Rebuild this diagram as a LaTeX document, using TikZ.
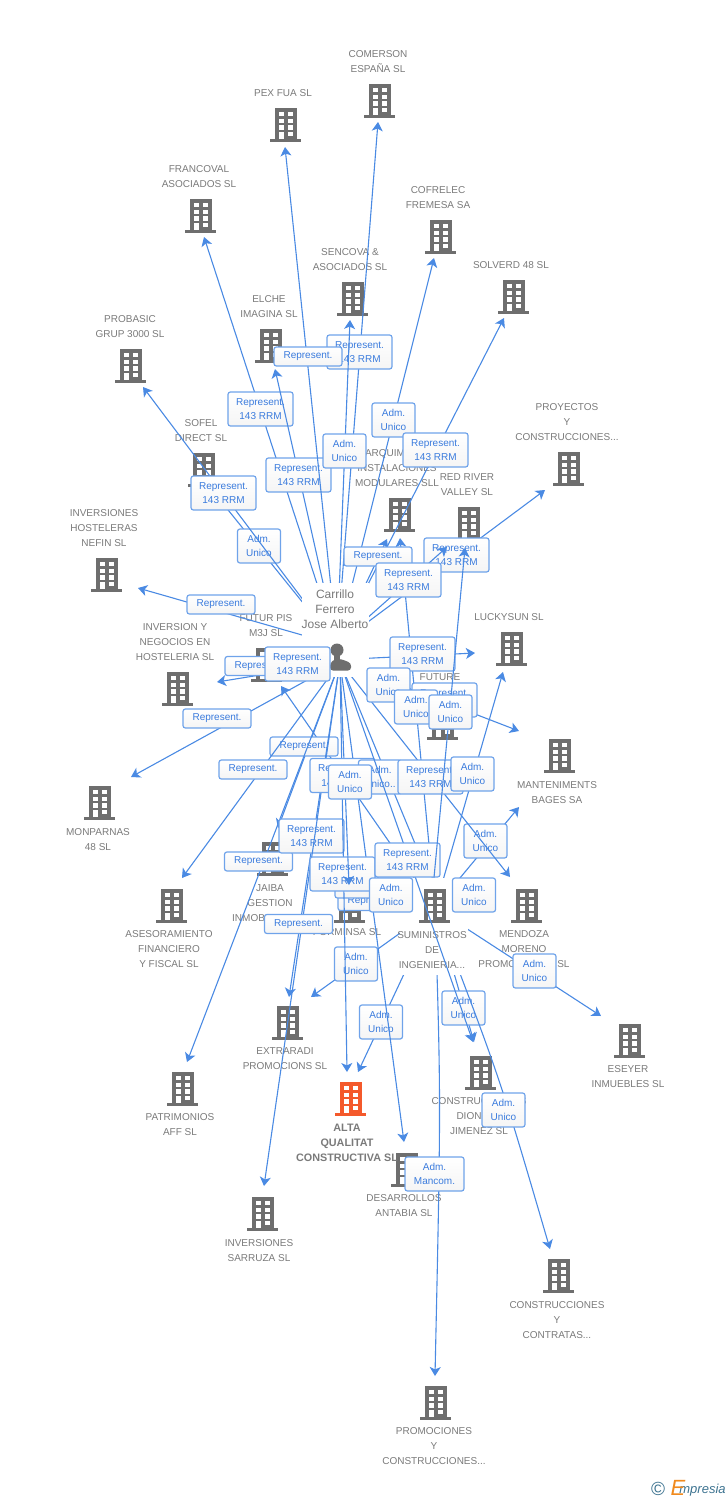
\documentclass[tikz,border=0pt]{standalone}
\usepackage{fontspec}
\setmainfont{Liberation Sans}
\usetikzlibrary{arrows.meta}
\definecolor{linkblue}{HTML}{4A8AE3}
\definecolor{boxblue}{HTML}{6FA3EA}
\definecolor{relblue}{HTML}{3A7BDD}
\definecolor{bldggray}{HTML}{6E6E6E}
\definecolor{textgray}{HTML}{7A7A7A}
\definecolor{altaorange}{HTML}{F4592B}
\definecolor{logoteal}{HTML}{3D7390}
\definecolor{logoorange}{HTML}{F08A1E}
\tikzset{
  link/.style={draw=linkblue,line width=0.55pt,-{Stealth[length=4.5pt,width=5.5pt,inset=1.2pt]}},
  bldg/.style={inner sep=0pt,minimum width=17pt,minimum height=18pt,path picture={
    \begin{scope}[shift={(path picture bounding box.center)}]
      \fill[#1] (-11,-16) rectangle (11,15);
      \fill[#1] (-16,15) rectangle (15,17.5);
      \fill[white] (-7.3,-12) rectangle (-2,-7.7);
      \fill[white] (2,-12) rectangle (7.3,-7.7);
      \fill[white] (-7.3,-5.5) rectangle (-2,-1.2);
      \fill[white] (2,-5.5) rectangle (7.3,-1.2);
      \fill[white] (-7.3,1.2) rectangle (-2,5.5);
      \fill[white] (2,1.2) rectangle (7.3,5.5);
      \fill[white] (-7.3,7.8) rectangle (-2,15);
      \fill[white] (2,7.8) rectangle (7.3,12);
    \end{scope}}},
  bldg/.default=bldggray,
  person/.style={inner sep=0pt,minimum width=15pt,minimum height=16pt,path picture={
    \begin{scope}[shift={(path picture bounding box.center)}]
      \fill[bldggray] (-3,-7) circle (6.5);
      \fill[bldggray] (-6,-3) rectangle (0,4);
      \fill[bldggray,rounded corners=1.5pt] (-10,13.5) -- (-10,6) -- (-5,2) -- (1,2) -- (11,6) -- (11,13.5) -- cycle;
    \end{scope}}},
  comp/.style={align=center,inner sep=0pt,text=textgray,font=\fontsize{5}{7.5}\selectfont},
  rel/.style={align=center,inner sep=0pt,draw=boxblue,line width=0.6pt,rounded corners=1.2pt,
    top color=white,bottom color=black!4,text=relblue,font=\fontsize{5}{7.25}\selectfont},
  relb/.style={rel,minimum width=32.5pt,minimum height=17pt},
  rels/.style={rel,minimum width=34pt,minimum height=9.5pt},
  rela/.style={rel,minimum width=21.5pt,minimum height=17pt},
  relm/.style={rel,minimum width=29.5pt,minimum height=17pt},
  mask/.style={fill=white,inner sep=0pt}
}
\begin{document}
\begin{tikzpicture}[x=0.5pt,y=-0.5pt]
  \useasboundingbox (0,0) rectangle (728,1500);
  % buildings
  \node[bldg] (comerson) at (380,100) {};
  \node[bldg] (pexfua) at (286,124) {};
  \node[bldg] (francoval) at (201,215) {};
  \node[bldg] (cofrelec) at (441,236) {};
  \node[bldg] (sencova) at (353,298) {};
  \node[bldg] (solverd) at (514,296) {};
  \node[bldg] (elche) at (271,345) {};
  \node[bldg] (probasic) at (131,365) {};
  \node[bldg] (proyectos) at (569,468) {};
  \node[bldg] (sofel) at (204,469) {};
  \node[bldg] (arquim) at (400,514) {};
  \node[bldg] (redriver) at (469,523) {};
  \node[bldg] (hosteleras) at (107,574) {};
  \node[bldg] (negocios) at (178,688) {};
  \node[bldg] (futurpis) at (267,664) {};
  \node[bldg] (luckysun) at (512,648) {};
  \node[bldg] (future) at (443,722) {};
  \node[bldg] (mantenim) at (560,755) {};
  \node[bldg] (monparnas) at (100,802) {};
  \node[bldg] (asesor) at (172,905) {};
  \node[bldg] (jaiba) at (273,858) {};
  \node[bldg] (porminsa) at (350,905) {};
  \node[bldg] (mendoza) at (527,905) {};
  \node[bldg] (eseyer) at (630,1040) {};
  \node[bldg] (extraradi) at (288,1022) {};
  \node[bldg] (patrimonios) at (183,1088) {};
  \node[bldg] (dionisio) at (481,1072) {};
  \node[bldg=altaorange] (alta) at (351,1098) {};
  \node[bldg] (antabia) at (407,1169) {};
  \node[bldg] (sarruza) at (263,1213) {};
  \node[bldg] (contratas) at (559,1275) {};
  \node[bldg] (promociones) at (436,1402) {};
  % names
  \node[comp] (comerson text) at (378,62) {COMERSON\\ESPAÑA SL};
  \node[comp] (pexfua text) at (283,93.5) {PEX FUA SL};
  \node[comp] (francoval text) at (199,177) {FRANCOVAL\\ASOCIADOS SL};
  \node[comp] (cofrelec text) at (438,198) {COFRELEC\\FREMESA SA};
  \node[comp] (sencova text) at (350,260) {SENCOVA \&\\ASOCIADOS SL};
  \node[comp] (solverd text) at (511,265.5) {SOLVERD 48 SL};
  \node[comp] (elche text) at (269,307) {ELCHE\\IMAGINA SL};
  \node[comp] (probasic text) at (130,327) {PROBASIC\\GRUP 3000 SL};
  \node[comp] (proyectos text) at (567,422.5) {PROYECTOS\\Y\\CONSTRUCCIONES...};
  \node[comp] (sofel text) at (201,431) {SOFEL\\DIRECT SL};
  \node[comp] (arquim text) at (397,468.5) {ARQUIM\hspace*{12pt}\\INSTALACIONES\\MODULARES SLL};
  \node[comp] (redriver text) at (467,485) {RED RIVER\\VALLEY SL};
  \node[comp] (hosteleras text) at (104,528.5) {INVERSIONES\\HOSTELERAS\\NEFIN SL};
  \node[comp] (negocios text) at (175,642.5) {INVERSION Y\\NEGOCIOS EN\\HOSTELERIA SL};
  \node[comp] (futurpis text) at (266,626) {FUTUR PIS\\M3J SL};
  \node[comp] (luckysun text) at (509,617.5) {LUCKYSUN SL};
  \node[comp] (future text) at (440,677.5) {FUTURE};
  \node[comp] (mantenim text) at (557,793) {MANTENIMENTS\\BAGES SA};
  \node[comp] (monparnas text) at (98,840) {MONPARNAS\\48 SL};
  \node[comp] (asesor text) at (169,949.5) {ASESORAMIENTO\\FINANCIERO\\Y FISCAL SL};
  \node[comp] (jaiba text) at (270,903.5) {JAIBA\\GESTION\\INMOBILIARIA...};
  \node[comp] (porminsa text) at (347,932.5) {PORMINSA SL};
  \node[comp] (mendoza text) at (524,949.5) {MENDOZA\\MORENO\\PROMOCIONES SL};
  \node[comp] (eseyer text) at (628,1077) {ESEYER\\INMUEBLES SL};
  \node[comp] (extraradi text) at (285,1059) {EXTRARADI\\PROMOCIONS SL};
  \node[comp] (patrimonios text) at (180,1125) {PATRIMONIOS\\AFF SL};
  \node[comp] (dionisio text) at (479,1116.5) {CONSTRUCCIONES\\DIONISIO\\JIMENEZ SL};
  \node[comp,font=\fontsize{5.4}{7.5}\bfseries\selectfont] (alta text) at (347,1142.5) {ALTA\\QUALITAT\\CONSTRUCTIVA SL};
  \node[comp] (antabia text) at (404,1206) {DESARROLLOS\\ANTABIA SL};
  \node[comp] (sarruza text) at (259,1251) {INVERSIONES\\SARRUZA SL};
  \node[comp] (contratas text) at (557,1320.5) {CONSTRUCCIONES\\Y\\CONTRATAS...};
  \node[comp] (promociones text) at (434,1446.5) {PROMOCIONES\\Y\\CONSTRUCCIONES...};
  % line ends
  \coordinate (carrillo up) at (337,645);
  \coordinate (carrillo down) at (340,662);
  \coordinate (carrillo right) at (353,659);
  \coordinate (suministros hub) at (435,908);
  \coordinate (comerson in) at (378,122);
  \coordinate (pexfua in) at (285,147);
  \coordinate (francoval in) at (204,237);
  \coordinate (cofrelec in) at (434,258);
  \coordinate (sencova in) at (350,320);
  \coordinate (solverd in) at (504,318);
  \coordinate (elche in) at (275,369);
  \coordinate (probasic in) at (143,387);
  \coordinate (proyectos in) at (545,490);
  \coordinate (sofel in) at (212,490);
  \coordinate (arquim in) at (387,539);
  \coordinate (arquim in2) at (400,538);
  \coordinate (redriver in) at (447,547);
  \coordinate (redriver in2) at (465,548);
  \coordinate (hosteleras in) at (138,588);
  \coordinate (negocios in) at (217,682);
  \coordinate (futurpis in) at (281,686);
  \coordinate (futurpis in2) at (285,660);
  \coordinate (luckysun in) at (475,653);
  \coordinate (luckysun in2) at (503,672);
  \coordinate (future in) at (415,695);
  \coordinate (mantenim in) at (519,731);
  \coordinate (mantenim in2) at (519,807);
  \coordinate (monparnas in) at (131,777);
  \coordinate (asesor in) at (182,878);
  \coordinate (jaiba in) at (278,828);
  \coordinate (porminsa in) at (349,885);
  \coordinate (porminsa in2) at (370,885);
  \coordinate (suministros in) at (428,875);
  \coordinate (mendoza in) at (510,877);
  \coordinate (mendoza in2) at (490,900);
  \coordinate (eseyer in) at (601,1016);
  \coordinate (extraradi in) at (289,997);
  \coordinate (extraradi in2) at (311,997);
  \coordinate (patrimonios in) at (187,1062);
  \coordinate (dionisio in) at (473,1042);
  \coordinate (dionisio in2) at (474,1042);
  \coordinate (alta in) at (347,1072);
  \coordinate (alta in2) at (358,1072);
  \coordinate (antabia in) at (404,1142);
  \coordinate (sarruza in) at (264,1186);
  \coordinate (contratas in) at (550,1249);
  \coordinate (promociones in) at (435,1376);
  % connectors of the second hub
  \draw[link] (suministros hub) -- (arquim in2);
  \draw[link] (suministros hub) -- (futurpis in);
  \draw[link] (suministros hub) -- (luckysun in2);
  \draw[link] (suministros hub) -- (mendoza in2);
  \draw[link] (suministros hub) -- (porminsa in2);
  \draw[link] (suministros hub) -- (mantenim in2);
  \node[rela] (adm e) at (485.5,841) {Adm.\\Unico};
  \draw[link] (suministros hub) -- (eseyer in);
  \node[rela] (adm f) at (534.5,971) {Adm.\\Unico};
  \draw[link] (suministros hub) -- (extraradi in2);
  \node[rela] (adm g) at (356,964) {Adm.\\Unico};
  \draw[link] (suministros hub) -- (alta in2);
  \node[rela] (adm h) at (381,1022) {Adm.\\Unico};
  \draw[link] (suministros hub) -- (dionisio in2);
  \node[rela] (adm i) at (463.5,1008) {Adm.\\Unico};
  \draw[link] (suministros hub) .. controls (500,1078) .. (contratas in);
  \node[rela] (adm j) at (503.5,1110) {Adm.\\Unico};
  \draw[link] (suministros hub) .. controls (441,1100) .. (promociones in);
  \node[relm] (mancom) at (434.5,1174) {Adm.\\Mancom.};
  \node[mask,minimum width=34pt,minimum height=48.5pt] (suministros mask) at (434,926.5) {};
  \node[bldg] (suministros) at (435,905) {};
  \node[comp] (suministros text) at (432,950.5) {SUMINISTROS\\DE\\INGENIERIA...};
  % connectors of the person
  \draw[link] (carrillo up) -- (francoval in);
  \node[relb] (rep a) at (260.5,409) {Represent.\\143 RRM};
  \draw[link] (carrillo up) -- (elche in);
  \node[relb] (rep b) at (298.5,475) {Represent.\\143 RRM};
  \draw[link] (carrillo up) -- (comerson in);
  \node[relb] (rep c) at (359.5,352) {Represent.\\143 RRM};
  \draw[link] (carrillo up) -- (pexfua in);
  \node[rels] (rep d) at (308,356.5) {Represent.};
  \draw[link] (carrillo up) -- (cofrelec in);
  \node[rela] (adm a) at (393.5,420) {Adm.\\Unico};
  \draw[link] (carrillo up) -- (solverd in);
  \node[relb] (rep e) at (435.5,450) {Represent.\\143 RRM};
  \draw[link] (carrillo up) -- (sencova in);
  \node[rela] (adm b) at (344.5,451) {Adm.\\Unico};
  \draw[link] (carrillo up) -- (arquim in);
  \node[rels] (rep f) at (378,556.5) {Represent.};
  \draw[link] (carrillo up) -- (proyectos in);
  \node[relb] (rep g) at (456.5,555) {Represent.\\143 RRM};
  \draw[link] (carrillo up) -- (redriver in);
  \node[relb] (rep h) at (408.5,580) {Represent.\\143 RRM};
  \draw[link] (carrillo up) -- (sofel in);
  \node[rela] (adm c) at (259,546) {Adm.\\Unico};
  \draw[link] (carrillo up) -- (probasic in);
  \node[relb] (rep i) at (223.5,493) {Represent.\\143 RRM};
  \draw[link] (carrillo up) -- (hosteleras in);
  \node[rels] (rep j) at (221,604.5) {Represent.};
  \draw[link] (carrillo down) -- (negocios in);
  \node[rels] (rep k) at (259,666) {Represent.};
  \draw[link] (carrillo down) -- (monparnas in);
  \node[rels] (rep l) at (217,718.5) {Represent.};
  \draw[link] (carrillo down) -- (jaiba in);
  \node[rels] (rep m) at (304,746.5) {Represent.};
  \draw[link] (carrillo down) -- (asesor in);
  \node[rels] (rep n) at (253,769.5) {Represent.};
  \draw[link] (carrillo down) -- (patrimonios in);
  \node[rels] (rep o) at (258.5,861.5) {Represent.};
  \draw[link] (carrillo down) -- (extraradi in);
  \node[relb] (rep p) at (311.5,836) {Represent.\\143 RRM};
  \draw[link] (carrillo down) -- (sarruza in);
  \node[rels] (rep q) at (298.5,924) {Represent.};
  \draw[link] (carrillo down) -- (antabia in);
  \node[rels] (rep r) at (372,901) {Represent.};
  \node[rela] (adm k) at (356.5,881) {Adm.\\Unico};
  \draw[link] (carrillo down) -- (alta in);
  \node[relb] (rep s) at (342.5,874) {Represent.\\143 RRM};
  \draw[link] (carrillo down) -- (porminsa in);
  \node[relb] (rep t) at (342.5,775.5) {Represent.\\143 RRM};
  \draw[link] (carrillo down) -- (suministros in);
  \node[rela] (adm l) at (380,777) {Adm.\\Unico..};
  \draw[link] (carrillo down) -- (mendoza in);
  \node[relb] (rep u) at (430.5,777) {Represent.\\143 RRM};
  \draw[link] (carrillo down) -- (dionisio in);
  \node[relb] (rep v) at (407.5,860) {Represent.\\143 RRM};
  \draw[link] (carrillo right) -- (luckysun in);
  \node[relb] (rep w) at (422.5,654) {Represent.\\143 RRM};
  \draw[link] (carrillo down) -- (futurpis in2);
  \draw[link] (carrillo down) -- (future in);
  \draw[link] (carrillo down) -- (mantenim in);
  % person
  \node[mask,minimum width=33.5pt,minimum height=47pt] (carrillo mask) at (335.5,630) {};
  \node[person] (carrillo) at (340,657) {};
  \node[comp,font=\fontsize{6}{7.5}\selectfont] (carrillo text) at (335,609.5) {Carrillo\\Ferrero\\Jose Alberto};
  % boxes on top
  \node[relb] (rep x) at (297.5,664) {Represent.\\143 RRM};
  \node[rela] (adm m) at (388.5,685) {Adm.\\Unico};
  \node[relb] (rep y) at (444.5,700) {Represent.\\143 RRM};
  \node[rela] (adm n) at (416,707) {Adm.\\Unico};
  \draw[link] (suministros mask.north) -- (redriver in2);
  \node[rela] (adm o) at (450.5,712) {Adm.\\Unico};
  \node[rela] (adm p) at (472.5,774) {Adm.\\Unico};
  \node[rela] (adm q) at (350,782) {Adm.\\Unico};
  \node[rela] (adm r) at (391,895) {Adm.\\Unico};
  \node[rela] (adm s) at (474,895) {Adm.\\Unico};
  % logo
  \node[inner sep=0pt,text=logoteal,font=\fontsize{9.5}{9.5}\selectfont] (logo sign) at (658,1489) {©};
  \node[inner sep=0pt,anchor=west,text=logoteal,font=\itshape\fontsize{6.5}{8}\selectfont] (logo) at (679,1490) {mpresia};
  \node[inner sep=0pt,text=logoorange,font=\itshape\fontsize{11}{11}\selectfont] (logo e) at (678,1488) {E};
\end{tikzpicture}
\end{document}
